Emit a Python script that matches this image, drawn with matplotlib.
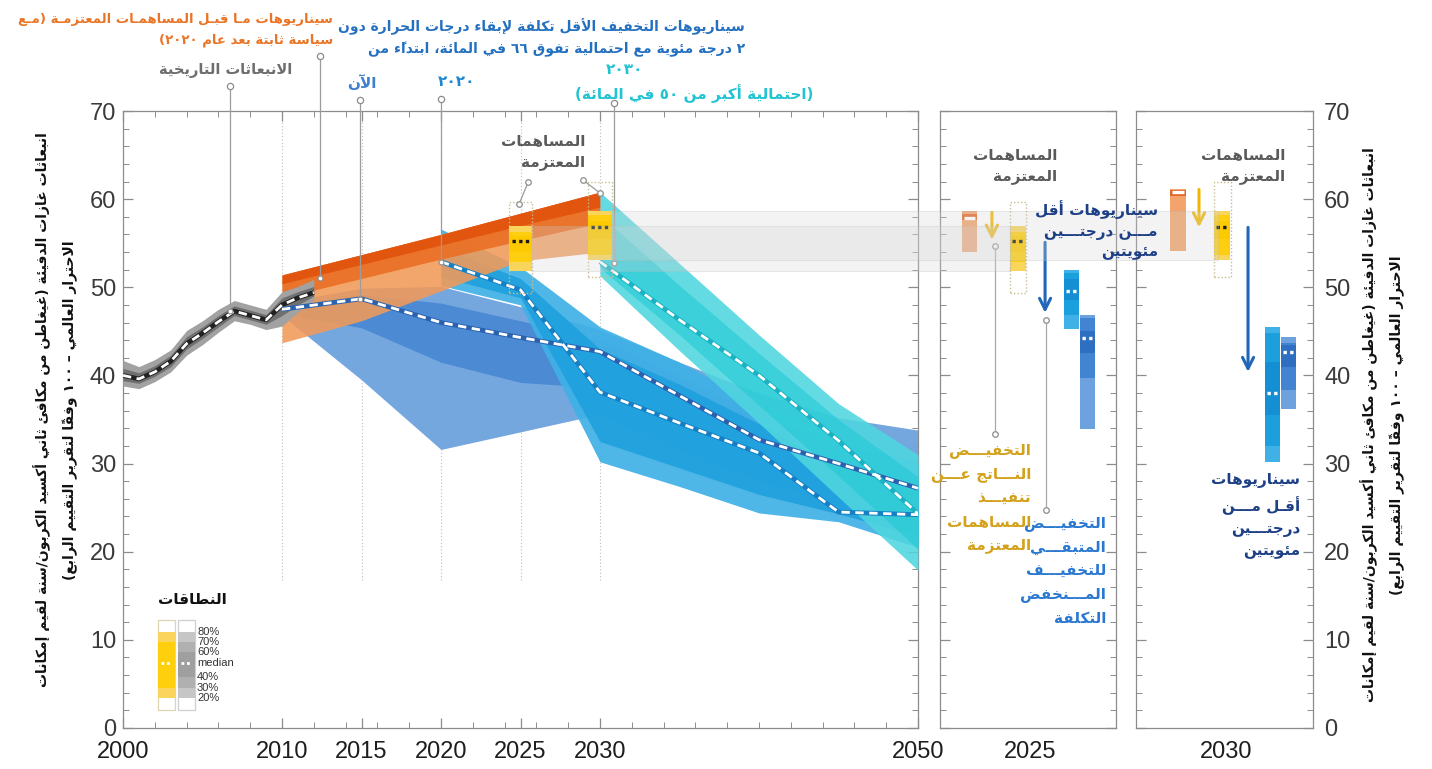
import numpy as np
import matplotlib.pyplot as plt
from matplotlib.patches import Rectangle
import matplotlib.transforms as mtransforms

plt.rcParams['font.family'] = ['DejaVu Sans']

# ---------------------------------------------------------------------------
# matplotlib has no Arabic shaping / RTL layout, so do it by hand:
# contextual forms from the presentation-forms block, then visual reordering.
# ---------------------------------------------------------------------------
_FORMS = {
    '\u0621': (0xFE80, 1), '\u0622': (0xFE81, 2), '\u0623': (0xFE83, 2),
    '\u0624': (0xFE85, 2), '\u0625': (0xFE87, 2), '\u0626': (0xFE89, 4),
    '\u0627': (0xFE8D, 2), '\u0628': (0xFE8F, 4), '\u0629': (0xFE93, 2),
    '\u062A': (0xFE95, 4), '\u062B': (0xFE99, 4), '\u062C': (0xFE9D, 4),
    '\u062D': (0xFEA1, 4), '\u062E': (0xFEA5, 4), '\u062F': (0xFEA9, 2),
    '\u0630': (0xFEAB, 2), '\u0631': (0xFEAD, 2), '\u0632': (0xFEAF, 2),
    '\u0633': (0xFEB1, 4), '\u0634': (0xFEB5, 4), '\u0635': (0xFEB9, 4),
    '\u0636': (0xFEBD, 4), '\u0637': (0xFEC1, 4), '\u0638': (0xFEC5, 4),
    '\u0639': (0xFEC9, 4), '\u063A': (0xFECD, 4), '\u0641': (0xFED1, 4),
    '\u0642': (0xFED5, 4), '\u0643': (0xFED9, 4), '\u0644': (0xFEDD, 4),
    '\u0645': (0xFEE1, 4), '\u0646': (0xFEE5, 4), '\u0647': (0xFEE9, 4),
    '\u0648': (0xFEED, 2), '\u0649': (0xFEEF, 2), '\u064A': (0xFEF1, 4),
    '\uFEF5': (0xFEF5, 2), '\uFEF7': (0xFEF7, 2), '\uFEF9': (0xFEF9, 2),
    '\uFEFB': (0xFEFB, 2),
}
_LAMALEF = {'\u0622': '\uFEF5', '\u0623': '\uFEF7', '\u0625': '\uFEF9', '\u0627': '\uFEFB'}
_MARKS = set(chr(c) for c in range(0x064B, 0x0653))
_DIGITS = set('0123456789\u0660\u0661\u0662\u0663\u0664\u0665\u0666\u0667\u0668\u0669')
_MIRROR = {'(': ')', ')': '('}


def _kind(c):
    if c == '\u0640':
        return 4
    return _FORMS[c][1] if c in _FORMS else 0


def _shape(line):
    chars = []
    for c in line:
        if c in _LAMALEF and chars and chars[-1] == '\u0644':
            chars[-1] = _LAMALEF[c]
        else:
            chars.append(c)
    out = []
    n = len(chars)
    for i, c in enumerate(chars):
        k = _kind(c)
        if c not in _FORMS:
            out.append(c)
            continue
        p = i - 1
        while p >= 0 and chars[p] in _MARKS:
            p -= 1
        q = i + 1
        while q < n and chars[q] in _MARKS:
            q += 1
        pj = p >= 0 and _kind(chars[p]) == 4 and k >= 2
        nj = q < n and k == 4 and _kind(chars[q]) >= 2
        form = 3 if (pj and nj) else 1 if pj else 2 if nj else 0
        out.append(chr(_FORMS[c][0] + form))
    return out


def ar(text):
    lines = []
    for line in text.split('\n'):
        clusters = []
        for c in _shape(line):
            if c in _MARKS and clusters:
                clusters[-1] += c
            else:
                clusters.append(c)
        runs = []
        for cl in clusters:
            d = cl[0] in _DIGITS
            if runs and runs[-1][0] == d:
                runs[-1][1].append(cl)
            else:
                runs.append([d, [cl]])
        vis = ''
        for d, cls in reversed(runs):
            if d:
                vis += ''.join(cls)
            else:
                vis += ''.join(_MIRROR.get(c, c) for c in reversed(cls))
        lines.append(vis)
    return '\n'.join(lines)


# ---------------------------------------------------------------------------
# data (GtCO2eq/yr)
# ---------------------------------------------------------------------------
hist_years = [2000, 2001, 2002, 2003, 2004, 2005, 2006, 2007, 2008, 2009, 2010, 2011, 2012]
hist_med = [40.0, 39.6, 40.4, 41.6, 43.6, 44.8, 46.1, 47.3, 46.8, 46.3, 48.0, 48.8, 49.4]
hist_lo = [38.8, 38.5, 39.3, 40.4, 42.3, 43.5, 44.9, 46.2, 45.8, 45.2, 45.6, 47.2, 48.6]
hist_hi = [41.7, 41.0, 41.8, 42.9, 45.1, 46.2, 47.5, 48.5, 48.0, 47.5, 49.5, 50.1, 50.9]
hist_in_lo = [39.4, 39.1, 39.9, 41.0, 43.0, 44.2, 45.5, 46.8, 46.3, 45.8, 46.8, 48.0, 49.0]
hist_in_hi = [40.8, 40.3, 41.1, 42.3, 44.4, 45.5, 46.8, 47.9, 47.4, 46.9, 48.8, 49.5, 50.1]

pre_years = [2010, 2015, 2020, 2025, 2030]
pre_lo = [43.7, 46.2, 49.6, 53.0, 54.0]
pre_in_lo = [48.8, 51.0, 53.2, 55.3, 57.3]
pre_core_lo = [50.4, 52.6, 54.8, 57.0, 59.1]
pre_hi = [51.4, 53.7, 56.0, 58.4, 60.8]

now_years = [2010, 2015, 2020, 2025, 2030, 2035, 2040, 2045, 2050]
now_lo = [46.8, 39.5, 31.6, 33.6, 35.6, 31.5, 28.0, 25.5, 24.0]
now_in_lo = [47.0, 45.4, 41.5, 39.2, 38.6, 34.2, 30.0, 27.5, 25.6]
now_med = [47.5, 48.7, 46.0, 44.3, 42.7, 37.7, 32.7, 30.0, 27.2]
now_in_hi = [48.0, 49.2, 48.2, 46.2, 44.0, 40.0, 35.5, 32.3, 30.2]
now_hi = [48.3, 49.9, 50.1, 47.8, 45.2, 41.5, 38.0, 35.2, 33.8]

s20_years = [2020, 2025, 2030, 2035, 2040, 2045, 2050]
s20_lo = [50.2, 48.0, 30.2, 27.4, 24.4, 23.4, 20.5]
s20_in_lo = [51.2, 48.8, 32.5, 29.5, 26.5, 24.3, 21.8]
s20_med = [52.9, 49.7, 38.1, 34.6, 31.2, 24.5, 24.2]
s20_in_hi = [54.5, 51.0, 43.0, 39.0, 34.5, 29.5, 27.0]
s20_hi = [56.6, 52.3, 45.5, 41.5, 36.8, 33.0, 30.0]

s30_years = [2030, 2035, 2040, 2045, 2050]
s30_lo = [51.3, 42.8, 34.6, 26.2, 17.9]
s30_in_lo = [52.2, 44.6, 36.6, 28.6, 20.3]
s30_med = [52.9, 46.3, 40.0, 32.6, 24.3]
s30_in_hi = [58.2, 50.2, 42.5, 35.0, 28.5]
s30_hi = [60.8, 52.7, 44.6, 36.8, 31.0]

# percentiles 20, 30, 40, median, 60, 70, 80
indc_years = [2025, 2030]
indc_pct = [[51.9, 52.9, 54.0, 55.2, 55.8, 56.3, 56.9],
            [53.1, 53.7, 55.5, 56.8, 57.5, 58.2, 58.7]]
indc_full = [[49.4, 59.7], [51.2, 61.9]]
pre_pct = [[54.0, 57.6, 57.8, 57.9, 58.1, 58.3, 58.7],
           [54.1, 60.4, 60.6, 60.8, 60.9, 61.0, 61.1]]
s20_pct = [[45.3, 46.9, 48.6, 49.6, 50.9, 51.6, 52.0],
           [30.2, 32.0, 35.5, 38.0, 41.5, 44.8, 45.5]]
now_pct = [[33.9, 39.7, 42.5, 44.3, 45.0, 46.5, 46.9],
           [36.2, 38.4, 41.0, 42.7, 43.5, 43.7, 44.4]]
indc_cut = [[58.5, 55.4], [61.1, 56.8]]
lowcost_cut = [[55.1, 47.1], [56.8, 40.4]]

legend_labels = ['80%', '70%', '60%', 'median', '40%', '30%', '20%']

# colours
C_HIST = ['#a2a2a2', '#707070']
C_PRE = ['#f29a58', '#ea6f24', '#e2520c']
C_NOW = ['#6ea2de', '#4283d2', '#2f6fc2']
C_S20 = ['#3fb1e6', '#1c9fdd', '#158fd3']
C_S30 = ['#4fd6df', '#22c9d5', '#18c0cf']
C_YEL = ['#f9d55c', '#fecf10', '#fdc900']
C_ORB = ['#f2a46c', '#e4672a', '#e4672a']
GRID = '#8c8c8c'

# ---------------------------------------------------------------------------
W, H = 1432, 769
fig = plt.figure(figsize=(W / 100, H / 100), dpi=100)


def fx(px):
    return px / W


def fy(py):
    return 1 - py / H


def axes_px(l, t, r, b):
    return fig.add_axes([fx(l), fy(b), fx(r) - fx(l), (b - t) / H])


def ftext(px, py, s, color, size, ha='right', va='center', ls=1.3, **kw):
    fig.text(fx(px), fy(py), ar(s), color=color, fontsize=size, fontweight='bold',
             ha=ha, va=va, multialignment=ha, linespacing=ls, **kw)


ax = axes_px(123, 111, 918, 728)
ax25 = axes_px(940, 111, 1116, 728)
ax30 = axes_px(1136, 111, 1313, 728)

NUMFONT = ['Liberation Sans Narrow', 'Liberation Sans', 'DejaVu Sans']

for a in (ax, ax25, ax30):
    a.set_ylim(0, 70)
    a.set_yticks(range(0, 71, 10))
    a.set_yticks(range(0, 71, 2), minor=True)
    for sp in a.spines.values():
        sp.set_color(GRID)
        sp.set_linewidth(0.9)
    a.tick_params(which='both', direction='in', left=True, right=True, color=GRID)
    a.tick_params(which='major', length=7, width=0.9)
    a.tick_params(which='minor', length=4, width=0.7)

# main panel axes
ax.set_xlim(2000, 2050)
ax.set_xticks([2000, 2010, 2015, 2020, 2025, 2030, 2050])
ax.set_xticks(np.arange(2000, 2051, 2), minor=True)
ax.tick_params(which='both', top=True, bottom=True)
ax.tick_params(axis='x', which='major', pad=9, labelsize=17, labelcolor='#1e1e1e')
ax.tick_params(axis='y', which='major', pad=5, labelsize=17, labelcolor='#3a3a3a')
for lab in ax.get_xticklabels() + ax.get_yticklabels():
    lab.set_family(NUMFONT)

for a, yr in ((ax25, '2025'), (ax30, '2030')):
    a.set_xlim(0, 1)
    a.set_xticks([0.51])
    a.set_xticklabels([yr], fontsize=17, color='#1e1e1e', family=NUMFONT)
    a.tick_params(axis='x', length=0, pad=9)
    a.tick_params(axis='y', labelleft=False)
ax30.tick_params(axis='y', which='major', labelright=True, labelsize=17,
                 labelcolor='#3a3a3a', pad=8)
for lab in ax30.get_yticklabels():
    lab.set_family(NUMFONT)

# ---------------------------------------------------------------------------
# main panel bands
ax.vlines([2010, 2015, 2020, 2025, 2030], 16.8, 70, colors='#bdbdbd',
          linestyles=(0, (1, 2)), lw=0.8, zorder=1)


def band(x, lo, hi, color, alpha, z):
    ax.fill_between(x, lo, hi, color=color, alpha=alpha, lw=0, zorder=z)


band(now_years, now_lo, now_hi, C_NOW[0], 0.95, 2)
band(now_years, now_in_lo, now_in_hi, C_NOW[1], 0.8, 2.1)
band(s20_years, s20_lo, s20_hi, C_S20[0], 0.92, 3)
band(s20_years, s20_in_lo, s20_in_hi, C_S20[1], 0.85, 3.1)
band(pre_years, pre_lo, pre_hi, C_PRE[0], 0.88, 4)
band(pre_years, pre_in_lo, pre_hi, C_PRE[1], 0.9, 4.1)
band(pre_years, pre_core_lo, pre_hi, C_PRE[2], 0.9, 4.2)
band(s30_years, s30_lo, s30_hi, C_S30[0], 0.88, 5)
band(s30_years, s30_in_lo, s30_in_hi, C_S30[1], 0.6, 5.1)
band(hist_years, hist_lo, hist_hi, C_HIST[0], 1, 6)
band(hist_years, hist_in_lo, hist_in_hi, C_HIST[1], 1, 6.1)


def median_line(x, y, edge):
    ax.plot(x, y, color=edge, lw=3.4, zorder=7, solid_capstyle='butt')
    ax.plot(x, y, color='white', lw=2.0, ls=(0, (3, 2)), zorder=7.1)


median_line(hist_years, hist_med, '#222222')
median_line(now_years, now_med, '#2a62b0')
median_line(s20_years, s20_med, '#1780c4')
median_line(s30_years, s30_med, '#1bb3c4')


def pct_bar(a, xc, w, p, colors, med_color, med_ls=(0, (1, 1)), z=8):
    a.bar(xc, p[6] - p[0], bottom=p[0], width=w, color=colors[0], lw=0, zorder=z)
    a.bar(xc, p[5] - p[1], bottom=p[1], width=w, color=colors[1], lw=0, zorder=z)
    a.bar(xc, p[4] - p[2], bottom=p[2], width=w, color=colors[2], lw=0, zorder=z)
    a.hlines(p[3], xc - w * 0.38, xc + w * 0.38, colors=med_color, lw=2.4,
             linestyles=med_ls, zorder=z + 0.5)


def indc_outline(a, xc, w, rng):
    a.add_patch(Rectangle((xc - w / 2, rng[0]), w, rng[1] - rng[0], fill=False,
                          ec='#c9bd8f', lw=1.0, ls=(0, (1, 1.5)), zorder=7.5))


for i, yr in enumerate(indc_years):
    indc_outline(ax, yr, 1.45, indc_full[i])
    pct_bar(ax, yr, 1.45, indc_pct[i], C_YEL, '#1a1a1a')

# connector lines to the labels above the main panel
conn = [(2006.7, 47.3, 72.8), (2012.4, 51.1, 76.2), (2014.9, 48.7, 71.3),
        (2020.0, 52.9, 71.4), (2030.9, 52.8, 70.9)]
for x0, y0, y1 in conn:
    ax.plot([x0, x0], [y0, y1], color='#9c9c9c', lw=0.9, zorder=9, clip_on=False)
    ax.plot([x0], [y1], 'o', ms=4.5, mfc='white', mec='#8c8c8c', mew=0.9,
            zorder=9.5, clip_on=False)
    ax.plot([x0], [y0], 'o', ms=3.5, mfc='white', mec='#8c8c8c', mew=0.8, zorder=9.5)
for (xa, ya), (xb, yb) in [((2024.9, 59.4), (2025.5, 62.0)),
                           ((2028.9, 62.2), (2030.0, 60.7))]:
    ax.plot([xa, xb], [ya, yb], color='#9c9c9c', lw=0.9, zorder=9)
    ax.plot([xa, xb], [ya, yb], 'o', ms=4, mfc='white', mec='#8c8c8c', mew=0.9, zorder=9.5)

# ---------------------------------------------------------------------------
# right panels
slots = {ax25: [0.168, 0.295, 0.443, 0.597, 0.747, 0.838],
         ax30: [0.237, 0.356, 0.486, 0.633, 0.771, 0.862]}
BW = 0.086
for i, a in enumerate((ax25, ax30)):
    s = slots[a]
    pct_bar(a, s[0], BW, pre_pct[i], C_ORB, 'white', med_ls='-', z=4)
    a.annotate('', xy=(s[1], indc_cut[i][1]), xytext=(s[1], indc_cut[i][0]),
               arrowprops=dict(arrowstyle='->', color='#f2b705', lw=2.2,
                               mutation_scale=20, shrinkA=0, shrinkB=0), zorder=6)
    indc_outline(a, s[2], BW + 0.01, indc_full[i])
    pct_bar(a, s[2], BW, indc_pct[i], C_YEL, '#1a1a1a', z=4)
    a.annotate('', xy=(s[3], lowcost_cut[i][1]), xytext=(s[3], lowcost_cut[i][0]),
               arrowprops=dict(arrowstyle='->', color='#2067b8', lw=2.2,
                               mutation_scale=20, shrinkA=0, shrinkB=0), zorder=6)
    pct_bar(a, s[4], BW, s20_pct[i], C_S20, 'white', z=4)
    pct_bar(a, s[5], BW, now_pct[i], C_NOW, 'white', z=4)

for xc, y0, y1 in [(0.312, 54.7, 33.4), (0.602, 46.3, 24.7)]:
    ax25.plot([xc, xc], [y0, y1], color='#a8a8a8', lw=0.9, zorder=3)
    ax25.plot([xc, xc], [y0, y1], 'o', ms=4, mfc='white', mec='#8c8c8c', mew=0.9, zorder=3.5)

# grey shading linking the INDC boxes to the side panels
trans = mtransforms.blended_transform_factory(fig.transFigure, ax.transData)
for (x0, x1), p in [((531, 1010), indc_pct[0]), ((611, 1218), indc_pct[1])]:
    fig.add_artist(Rectangle((fx(x0), p[0]), fx(x1) - fx(x0), p[6] - p[0], transform=trans,
                             fc='#d4d4d4', ec='#b8b8b8', lw=0.8, alpha=0.28, zorder=1))

# ---------------------------------------------------------------------------
# legend
lg = axes_px(150, 612, 262, 716)
lg.set_xlim(0, 112)
lg.set_ylim(0, 104)
lg.axis('off')
lev = [84, 74, 64, 53, 39, 28, 18]
for x0, cols, med in [(8, ['#fad45c', '#fecf0c', '#fecf0c'], 'white'),
                      (28, ['#c6c6c6', '#b0b0b0', '#9f9f9f'], 'white')]:
    lg.add_patch(Rectangle((x0, 6), 17, 90, fc='white', ec='#ddd4b0' if x0 == 8 else '#cfcfcf', lw=0.9))
    lg.add_patch(Rectangle((x0, lev[6]), 17, lev[0] - lev[6], fc=cols[0], lw=0))
    lg.add_patch(Rectangle((x0, lev[5]), 17, lev[1] - lev[5], fc=cols[1], lw=0))
    lg.add_patch(Rectangle((x0, lev[4]), 17, lev[2] - lev[4], fc=cols[2], lw=0))
    lg.hlines(lev[3], x0 + 3, x0 + 14, colors=med, lw=2, linestyles=(0, (1, 1)))
for lab, yv in zip(legend_labels, lev):
    lg.text(47, yv, lab, fontsize=8, color='#333333', va='center', ha='left', family=NUMFONT)
ftext(192, 600, 'النطاقات', '#111111', 11, ha='center')

# ---------------------------------------------------------------------------
# texts
ylab = ('انبعاثات غازات الدفيئة (غيغاطن من مكافئ ثاني أكسيد الكربون/سنة لقيم إمكانات\n'
        'الاحترار العالمي – ١٠٠ وفقاً لتقرير التقييم الرابع)')
ftext(56, 410, ylab, '#111111', 10, ha='center', rotation=90, ls=2.0)
ftext(1383, 425, ylab, '#111111', 10, ha='center', rotation=90, ls=2.0)

ftext(333, 30, 'سيناريوهات مـا قبـل المساهمـات المعتزمـة (مـع\nسياسة ثابتة بعد عام ٢٠٢٠)',
      '#eb7526', 9.5, ls=1.75)
ftext(292, 71, 'الانبعاثات التاريخية', '#6e6e6e', 10.5)
ftext(376, 83, 'الآن', '#3f7fcf', 11)
ftext(457, 82, '٢٠٢٠', '#1e88d0', 11, ha='center')
ftext(745, 38, 'سيناريوهات التخفيف الأقل تكلفة لإبقاء درجات الحرارة دون\n'
      '٢ درجة مئوية مع احتمالية تفوق ٦٦ في المائة، ابتداءً من', '#2470c0', 10, ls=1.6)
ftext(625, 69, '٢٠٣٠', '#22c3d3', 11, ha='center')
ftext(813, 94, '(احتمالية أكبر من ٥٠ في المائة)', '#22c3d3', 11)
ftext(585, 152, 'المساهمات\nالمعتزمة', '#5a5a5a', 11, ls=1.5)

ftext(1057, 166, 'المساهمات\nالمعتزمة', '#5a5a5a', 11, ls=1.5)
ftext(1285, 166, 'المساهمات\nالمعتزمة', '#5a5a5a', 11, ls=1.5)
ftext(1158, 230, 'سيناريوهات أقل\nمـــن درجتـــين\nمئويتين', '#1d3f86', 11, ls=1.4)
ftext(1031, 498, 'التخفيـــض\nالنـــاتج عـــن\nتنفيـــذ\nالمساهمات\nالمعتزمة',
      '#d3a11a', 11, ls=1.7)
ftext(1106, 571, 'التخفيـــض\nالمتبقـــي\nللتخفيـــف\nالمـــنخفض\nالتكلفة',
      '#2a78d0', 11, ls=1.7)
ftext(1300, 516, 'سيناريوهات\nأقـل مـــن\nدرجتـــين\nمئويتين', '#1d3f86', 11, ls=1.5)

fig.savefig('out.png', dpi=100)
